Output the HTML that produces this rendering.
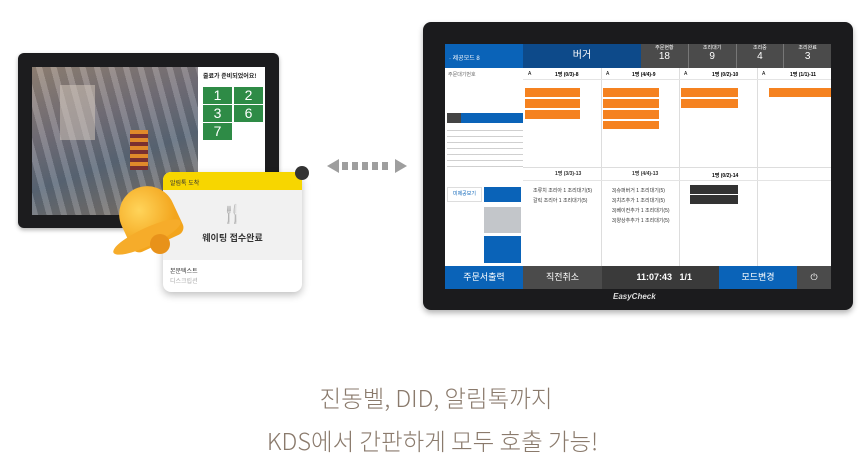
<!DOCTYPE html>
<html><head><meta charset="utf-8"><style>
*{margin:0;padding:0;box-sizing:border-box}
body{width:865px;height:469px;background:#fff;position:relative;overflow:hidden;font-family:"Liberation Sans","Noto Sans CJK KR",sans-serif}
.a{position:absolute}
</style></head><body>
<!-- left tablet -->
<div class="a" style="left:18px;top:53px;width:261px;height:175px;background:#1c1c1e;border-radius:6px;box-shadow:0 2px 4px rgba(0,0,0,.3)"></div>
<div class="a" style="left:32px;top:67px;width:166px;height:148px;background:linear-gradient(160deg,#9a8a7c 0%,#7a7680 35%,#5f6c7c 60%,#8a7a6a 100%)"></div>
<div class="a" style="left:32px;top:67px;width:166px;height:148px;background:repeating-linear-gradient(75deg,rgba(255,255,255,.12) 0 6px,rgba(0,0,0,.1) 6px 14px)"></div>
<div class="a" style="left:60px;top:85px;width:35px;height:55px;background:#d8ccc0;opacity:.5"></div>
<div class="a" style="left:130px;top:130px;width:18px;height:40px;background:repeating-linear-gradient(#e08a2a 0 4px,#7a3030 4px 8px)"></div>
<div class="a" style="left:198px;top:67px;width:67px;height:148px;background:#fff"></div>
<div class="a" style="left:203px;top:71px;font-size:6px;font-weight:bold;color:#222">줄료가 준비되었어요!</div>
<div class="a" style="left:203px;top:87px;width:29px;height:17px;background:#2e8b46;color:#fff;font-size:14px;text-align:center;line-height:17px">1</div>
<div class="a" style="left:234px;top:87px;width:29px;height:17px;background:#2e8b46;color:#fff;font-size:14px;text-align:center;line-height:17px">2</div>
<div class="a" style="left:203px;top:105px;width:29px;height:17px;background:#2e8b46;color:#fff;font-size:14px;text-align:center;line-height:17px">3</div>
<div class="a" style="left:234px;top:105px;width:29px;height:17px;background:#2e8b46;color:#fff;font-size:14px;text-align:center;line-height:17px">6</div>
<div class="a" style="left:203px;top:123px;width:29px;height:17px;background:#2e8b46;color:#fff;font-size:14px;text-align:center;line-height:17px">7</div>
<!-- card -->
<div class="a" style="left:163px;top:172px;width:139px;height:120px;border-radius:8px;background:#fff;box-shadow:0 3px 8px rgba(0,0,0,.25);overflow:hidden">
<div style="height:18px;background:#f7d600;font-size:6px;padding:6px 7px;color:#333">알림톡 도착</div>
<div style="height:70px;background:#f1f1f1;text-align:center">
<div style="padding-top:14px;font-size:18px;color:#444">🍴</div>
<div style="font-size:9px;font-weight:bold;color:#333;margin-top:6px">웨이팅 접수완료</div></div>
<div style="font-size:6px;color:#333;padding:6px 7px 0">본문텍스트</div>
<div style="font-size:6px;color:#aaa;padding:1px 7px">디스크립션</div>
</div>
<div class="a" style="left:295px;top:166px;width:14px;height:14px;border-radius:50%;background:#333"></div>
<!-- bell -->
<div class="a" style="left:120px;top:186px;width:56px;height:60px;background:radial-gradient(circle at 40% 35%,#ffd45a,#f3a51d 70%);border-radius:28px 28px 8px 8px;transform:rotate(-25deg)"></div>
<div class="a" style="left:110px;top:228px;width:74px;height:18px;background:#f6ac2a;border-radius:50%;transform:rotate(-25deg)"></div>
<div class="a" style="left:150px;top:234px;width:20px;height:20px;background:#e8921a;border-radius:50%"></div>
<!-- arrow -->
<div class="a" style="left:327px;top:159px;width:0;height:0;border-top:7px solid transparent;border-bottom:7px solid transparent;border-right:12px solid #9e9e9e"></div>
<div class="a" style="left:342px;top:162px;width:50px;height:8px;background:repeating-linear-gradient(90deg,#9e9e9e 0 6px,transparent 6px 10px)"></div>
<div class="a" style="left:395px;top:159px;width:0;height:0;border-top:7px solid transparent;border-bottom:7px solid transparent;border-left:12px solid #9e9e9e"></div>
<!-- right tablet -->
<div class="a" style="left:423px;top:22px;width:430px;height:288px;background:#1b1b1d;border-radius:8px;box-shadow:0 3px 6px rgba(0,0,0,.3)"></div>
<div class="a" style="left:445px;top:44px;width:386px;height:245px;background:#fff"></div>
<div class="a" style="left:445px;top:44px;width:78px;height:24px;background:#0a63b8;color:#fff;font-size:6px;padding:9px 4px">· 제공모드 8</div>
<div class="a" style="left:523px;top:44px;width:118px;height:24px;background:#0d4a8a;color:#fff;font-size:10px;text-align:center;line-height:24px">버거</div>
<div class="a" style="left:641px;top:44px;width:190px;height:24px;background:#4b4b4b;display:flex">
<div style="flex:1;border-right:1px solid #777;color:#fff;text-align:center;font-size:5px">주문현황<div style="font-size:10px">18</div></div>
<div style="flex:1;border-right:1px solid #777;color:#fff;text-align:center;font-size:5px">조리대기<div style="font-size:10px">9</div></div>
<div style="flex:1;border-right:1px solid #777;color:#fff;text-align:center;font-size:5px">조리중<div style="font-size:10px">4</div></div>
<div style="flex:1;color:#fff;text-align:center;font-size:5px">조리완료<div style="font-size:10px">3</div></div></div>
<!-- left panel -->
<div class="a" style="left:448px;top:71px;font-size:5px;color:#666">주문대기번호</div>
<div class="a" style="left:447px;top:113px;width:76px;height:10px;background:#0a63b8"></div>
<div class="a" style="left:447px;top:113px;width:14px;height:10px;background:#444"></div>
<div class="a" style="left:447px;top:127px;width:76px;height:45px;background:repeating-linear-gradient(#fff 0 3px,#bbb 3px 4px,#fff 4px 6px);opacity:.7"></div>
<div class="a" style="left:447px;top:187px;width:35px;height:15px;background:#fff;border:1px solid #ddd;font-size:5px;color:#0a63b8;text-align:center;line-height:13px">미제공보기</div>
<div class="a" style="left:484px;top:187px;width:37px;height:15px;background:#0a63b8"></div>
<div class="a" style="left:484px;top:207px;width:37px;height:26px;background:#c3c6ca"></div>
<div class="a" style="left:484px;top:236px;width:37px;height:27px;background:#0a63b8"></div>
<!-- columns -->
<div class="a" style="left:523px;top:68px;width:308px;height:198px;background:
linear-gradient(90deg,transparent 78px,#ddd 78px 79px,transparent 79px 156px,#ddd 156px 157px,transparent 157px 234px,#ddd 234px 235px,transparent 235px)"></div>
<div class="a" style="left:523px;top:167px;width:308px;height:1px;background:#ddd"></div>
<div class="a" style="left:523px;top:79px;width:308px;height:1px;background:#e4e4e4"></div>
<div class="a" style="left:523px;top:180px;width:308px;height:1px;background:#e4e4e4"></div>
<div class="a" style="left:528px;top:71px;font-size:5px">A</div><div class="a" style="left:606px;top:71px;font-size:5px">A</div><div class="a" style="left:684px;top:71px;font-size:5px">A</div><div class="a" style="left:762px;top:71px;font-size:5px">A</div>
<div class="a" style="left:555px;top:71px;font-size:5px;font-weight:bold">1명 (0/3)-8</div>
<div class="a" style="left:632px;top:71px;font-size:5px;font-weight:bold">1명 (4/4)-9</div>
<div class="a" style="left:712px;top:71px;font-size:5px;font-weight:bold">1명 (0/2)-10</div>
<div class="a" style="left:790px;top:71px;font-size:5px;font-weight:bold">1명 (1/1)-11</div>
<div class="a" style="left:525px;top:88px;width:55px;height:31px;background:repeating-linear-gradient(#f58220 0 9px,#fff 9px 11px)"></div>
<div class="a" style="left:603px;top:88px;width:56px;height:41px;background:repeating-linear-gradient(#f58220 0 9px,#fff 9px 11px)"></div>
<div class="a" style="left:681px;top:88px;width:57px;height:20px;background:repeating-linear-gradient(#f58220 0 9px,#fff 9px 11px)"></div>
<div class="a" style="left:769px;top:88px;width:62px;height:9px;background:#f58220"></div>
<div class="a" style="left:555px;top:170px;font-size:5px;font-weight:bold;color:#333">1명 (3/3)-13</div>
<div class="a" style="left:632px;top:170px;font-size:5px;font-weight:bold;color:#333">1명 (4/4)-13</div>
<div class="a" style="left:712px;top:172px;font-size:5px;font-weight:bold">1명 (0/2)-14</div>
<div class="a" style="left:690px;top:185px;width:48px;height:19px;background:repeating-linear-gradient(#333 0 9px,#fff 9px 10px)"></div>
<div class="a" style="left:533px;top:186px;font-size:5px;line-height:10px;color:#333">조류치 조리아 1 조리대기(5)<br>갈릭 조리아 1 조리대기(5)</div>
<div class="a" style="left:612px;top:186px;font-size:5px;line-height:10px;color:#333">3)슈퍼버거 1 조리대기(5)<br>3)치즈추가 1 조리대기(5)<br>3)베이컨추가 1 조리대기(5)<br>3)양상추추가 1 조리대기(5)</div>
<!-- bottom bar -->
<div class="a" style="left:445px;top:266px;width:386px;height:23px;display:flex;color:#fff;font-size:9px;line-height:23px;text-align:center">
<div style="width:78px;background:#0a63b8">주문서출력</div>
<div style="width:79px;background:#4b4b4b">직전취소</div>
<div style="width:117px;background:#3a3a3a;font-weight:bold">&nbsp;&nbsp;&nbsp;11:07:43&nbsp;&nbsp;&nbsp;1/1</div>
<div style="width:78px;background:#0a63b8">모드변경</div>
<div style="width:34px;background:#4b4b4b">⏻</div></div>
<div class="a" style="left:613px;top:292px;font-size:8px;color:#ddd;font-style:italic;font-weight:bold">EasyCheck</div>
<!-- caption -->
<div class="a" style="left:0;top:380px;width:872px;text-align:center;font-size:23.5px;color:#8a7a6c;font-family:'Noto Sans CJK KR',sans-serif;font-weight:300">진동벨, DID, 알림톡까지</div>
<div class="a" style="left:0;top:423px;width:865px;text-align:center;font-size:23.5px;color:#8a7a6c;font-family:'Noto Sans CJK KR',sans-serif;font-weight:300">KDS에서 간판하게 모두 호출 가능!</div>
</body></html>
